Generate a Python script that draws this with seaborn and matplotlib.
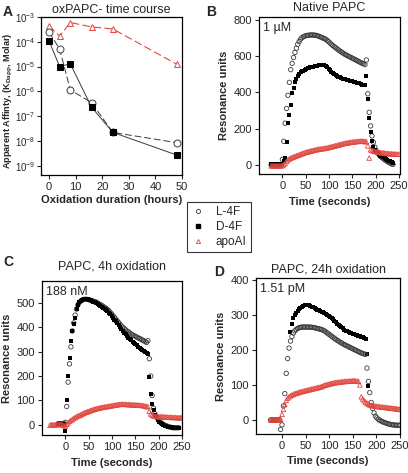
import numpy as np
import pandas as pd
import matplotlib
matplotlib.use("Agg")
import matplotlib.pyplot as plt
import seaborn as sns
from matplotlib.lines import Line2D
from matplotlib.ticker import NullLocator

nan = np.nan

# ---- Panel A: apparent affinity vs oxidation time ----
ox_hours = [0, 4, 8, 16, 24, 48]
kd_L4F = [2.5e-4, 5.1e-5, 1.15e-6, 3.5e-7, 2.2e-8, 8.5e-9]
kd_D4F = [1.1e-4, 1.0e-5, 1.3e-5, 2.3e-7, 2.2e-8, 2.7e-9]
kd_apo = [4.4e-4, 1.7e-4, 6.0e-4, 4.0e-4, 3.3e-4, 1.25e-5]
kd_ticks = [1e-9, 1e-8, 1e-7, 1e-6, 1e-5, 1e-4, 1e-3]
kd_tick_labels = ["10$^{-9}$", "10$^{-8}$", "10$^{-7}$", "10$^{-6}$",
                  "10$^{-5}$", "10$^{-4}$", "10$^{-3}$"]

# ---- Sensorgrams: sampled every 3 s from -36 s to 249 s ----
t_sec = np.arange(-36, 250, 3)

B_L4F = [nan, nan, nan, nan,
         0, 0, 0, 0, 0, 0, 0, 0,
         30, 130, 230, 311, 384, 455, 525, 560, 592, 620,
         643, 665, 680, 693, 701, 706, 710, 713, 714, 715,
         716, 716, 716, 715, 714, 712, 709, 706, 703, 699,
         696, 692, 686, 679, 672, 665, 658, 652, 646, 640,
         634, 628, 623, 618, 613, 608, 604, 600, 596, 592,
         588, 584, 580, 576, 572, 568, 564, 560, 557, 553,
         578, 392, 290, 215, 160, 125, 98, 80, 67, 57,
         48, 41, 35, 29, 24, 19, 14, 10, 6, 3,
         nan, nan, nan, nan]
B_D4F = [nan, nan, nan, nan,
         3, 3, 3, 3, 3, 3, 3, 3,
         5, 20, 38, 129, 229, 275, 330, 395, 425, 455,
         475, 490, 501, 510, 516, 520, 525, 529, 532, 535,
         538, 540, 542, 544, 546, 547, 548, 549, 550, 550,
         548, 544, 538, 530, 522, 514, 507, 501, 496, 491,
         487, 483, 479, 476, 474, 471, 469, 467, 464, 462,
         460, 458, 456, 454, 452, 449, 446, 443, 440, 438,
         490, 365, 256, 180, 130, 101, 85, 74, 65, 58,
         52, 47, 42, 37, 32, 27, 23, 20, 16, 13,
         nan, nan, nan, nan]
B_apo = [nan, nan, nan, nan,
         -5, -5, -5, -5, -5, -5, -5, -5,
         -3, 2, 8, 20, 28, 33, 37, 41, 44, 47,
         50, 53, 56, 59, 62, 65, 68, 70, 72, 74,
         76, 78, 80, 82, 84, 85, 87, 88, 89, 90,
         91, 92, 94, 96, 98, 100, 102, 104, 106, 108,
         110, 112, 114, 116, 118, 120, 121, 122, 124, 125,
         126, 127, 128, 129, 130, 130, 131, 131, 130, 129,
         128, 105, 38, 84, 80, 77, 75, 73, 71, 70,
         68, 67, 66, 65, 64, 63, 62, 62, 61, 61,
         60, 60, 59, 59]

C_L4F = [nan, nan, nan, nan,
         nan, nan, nan, 5, 5, 5, 5, 5,
         10, 75, 175, 250, 320, 385, 418, 450, 475, 492,
         502, 508, 512, 514, 515, 515, 514, 513, 511, 509,
         507, 505, 503, 500, 496, 493, 490, 486, 482, 478,
         474, 468, 462, 455, 448, 441, 434, 427, 420, 413,
         406, 400, 395, 390, 385, 381, 377, 373, 369, 366,
         363, 360, 357, 354, 351, 348, 345, 342, 338, 345,
         271, 200, 120, 68, 45, 34, 25, 16, 10, 5,
         2, -1, -4, -6, -8, -10, -11, -12, -12, -12,
         -12, -12, nan, nan]
C_D4F = [nan, nan, nan, nan,
         nan, nan, nan, 5, 5, 5, 5, 2,
         -25, 100, 200, 275, 343, 385, 415, 440, 475, 493,
         503, 509, 513, 515, 516, 516, 515, 513, 511, 508,
         505, 502, 498, 494, 490, 486, 482, 478, 474, 470,
         466, 460, 454, 447, 440, 432, 424, 416, 408, 400,
         392, 385, 378, 371, 364, 358, 352, 346, 341, 336,
         331, 326, 321, 316, 311, 306, 302, 298, 294, 291,
         196, 125, 85, 60, 42, 30, 20, 12, 6, 2,
         -2, -4, -6, -8, -9, -10, -11, -12, -12, -13,
         -13, -13, nan, nan]
C_apo = [nan, -2, 0, 0,
         0, 0, 1, 1, 1, 1, 0, -3,
         -5, 2, 8, 14, 18, 22, 26, 30, 33, 36,
         38, 41, 44, 47, 50, 52, 54, 56, 58, 60,
         62, 64, 66, 67, 68, 70, 71, 72, 73, 74,
         75, 76, 77, 78, 79, 80, 81, 82, 83, 84,
         84, 84, 84, 84, 83, 83, 83, 82, 82, 82,
         81, 81, 81, 80, 80, 79, 78, 77, 75, 74,
         55, 45, 40, 37, 35, 34, 34, 33, 33, 33,
         32, 32, 32, 31, 31, 31, 30, 30, 30, 30,
         29, 29, 29, 29]

D_L4F = [nan, nan, nan, nan,
         0, 0, 0, 0, 0, 0, 0, -27,
         -14, 40, 75, 133, 175, 205, 225, 238, 248, 254,
         258, 261, 263, 264, 265, 265, 265, 265, 265, 265,
         265, 264, 264, 263, 262, 261, 260, 259, 258, 256,
         254, 251, 248, 245, 242, 239, 236, 233, 230, 227,
         225, 222, 220, 217, 215, 213, 211, 209, 207, 205,
         203, 201, 199, 197, 195, 193, 191, 190, 188, 187,
         148, 110, 78, 50, 33, 20, 11, 6, 2, -1,
         -3, -5, -7, -8, -10, -11, -12, -13, -14, -14,
         -15, -15, -15, -15]
D_D4F = [nan, nan, nan, nan,
         nan, nan, nan, nan, nan, nan, nan, nan,
         nan, nan, nan, nan, nan, nan, 250, 275, 290, 300,
         306, 312, 316, 320, 323, 326, 328, 329, 328, 327,
         325, 323, 321, 319, 317, 315, 313, 311, 309, 307,
         305, 303, 300, 297, 294, 291, 287, 283, 279, 275,
         271, 267, 264, 261, 258, 255, 253, 251, 249, 247,
         246, 244, 243, 241, 240, 239, 237, 236, 234, 232,
         187, 97, nan, nan, nan, nan, nan, nan, nan, nan,
         nan, nan, nan, nan, nan, nan, nan, nan, nan, nan,
         nan, nan, nan, nan]
D_apo = [nan, nan, nan, nan,
         0, 0, 0, 0, 0, 0, 0, 2,
         16, 30, 44, 56, 62, 66, 69, 71, 73, 75,
         76, 77, 79, 80, 81, 82, 83, 84, 85, 86,
         87, 88, 89, 90, 91, 92, 93, 94, 95, 97,
         99, 100, 101, 102, 103, 104, 105, 106, 107, 107,
         108, 108, 109, 109, 110, 110, 110, 111, 111, 111,
         112, 112, 111, 111, 110, 100, 66, 60, 55, 51,
         48, 45, 43, 42, 41, 40, 39, 39, 38, 38,
         37, 37, 36, 36, 35, 35, 34, 34, 33, 33,
         32, 32, 31, 30]

RED = "#e0463e"
GRAY = "#3a3a3a"

sns.set_style("ticks")
plt.rcParams["font.family"] = ["Liberation Sans", "DejaVu Sans"]
plt.rcParams["mathtext.fontset"] = "custom"
plt.rcParams["mathtext.rm"] = "Liberation Sans"
plt.rcParams["mathtext.it"] = "Liberation Sans:italic"
plt.rcParams["mathtext.bf"] = "Liberation Sans:bold"
plt.rcParams["axes.linewidth"] = 0.9
plt.rcParams["xtick.major.width"] = 0.8
plt.rcParams["ytick.major.width"] = 0.8
plt.rcParams["xtick.major.size"] = 3
plt.rcParams["ytick.major.size"] = 3

fig = plt.figure(figsize=(4.08, 4.73), dpi=100)
axA = fig.add_axes([0.1005, 0.630, 0.3456, 0.334])
axB = fig.add_axes([0.6348, 0.6321, 0.3456, 0.3319])
axC = fig.add_axes([0.1029, 0.0803, 0.3431, 0.3256])
axD = fig.add_axes([0.6275, 0.0825, 0.3529, 0.3298])

# Panel A
sns.lineplot(x=ox_hours, y=kd_apo, ax=axA, color=RED, linewidth=0.8,
             linestyle=(0, (7, 3)), marker="^", markersize=5,
             markerfacecolor="white", markeredgecolor=RED, markeredgewidth=0.7)
sns.lineplot(x=ox_hours, y=kd_L4F, ax=axA, color=GRAY, linewidth=0.7,
             linestyle=(0, (7, 3)), marker="o", markersize=5,
             markerfacecolor="white", markeredgecolor=GRAY, markeredgewidth=0.7)
sns.lineplot(x=ox_hours, y=kd_D4F, ax=axA, color=GRAY, linewidth=0.7,
             marker="s", markersize=4.2, markerfacecolor="black",
             markeredgecolor="black")
axA.set_yscale("log")
axA.set_ylim(4.2e-10, 1e-3)
axA.set_yticks(kd_ticks)
axA.set_yticklabels(kd_tick_labels)
axA.yaxis.set_minor_locator(NullLocator())
axA.set_xlim(-3, 50)
axA.set_xticks([0, 10, 20, 30, 40, 50])
axA.set_title("oxPAPC- time course", fontsize=9, pad=3)
axA.set_xlabel("Oxidation duration (hours)", fontsize=8, fontweight="bold", labelpad=2)
axA.set_ylabel("Apparent Affinty, (K$_{\\mathbf{Dapp}}$, Molar)", fontsize=6.6,
               fontweight="bold")
axA.yaxis.set_label_coords(-0.185, 0.47)


def sensorgram(ax, l4f, d4f, apo, title, conc, xlim, ylim, yticks, draw_squares_first=False):
    circ = dict(marker="o", s=10, facecolor="none", edgecolor=GRAY, linewidth=0.6)
    sq = dict(marker="s", s=7, color="black", linewidth=0)
    tri = dict(marker="^", s=11, facecolor="none", edgecolor=RED, linewidth=0.6)
    if draw_squares_first:
        sns.scatterplot(x=t_sec, y=d4f, ax=ax, **sq)
        sns.scatterplot(x=t_sec, y=l4f, ax=ax, **circ)
    else:
        sns.scatterplot(x=t_sec, y=l4f, ax=ax, **circ)
        sns.scatterplot(x=t_sec, y=d4f, ax=ax, **sq)
    sns.scatterplot(x=t_sec, y=apo, ax=ax, **tri)
    ax.set_xlim(*xlim)
    ax.set_ylim(*ylim)
    ax.set_xticks([0, 50, 100, 150, 200, 250])
    ax.set_yticks(yticks)
    ax.set_title(title, fontsize=9, pad=4)
    ax.set_xlabel("Time (seconds)", fontsize=8, fontweight="bold", labelpad=4)
    ax.set_ylabel("Resonance units", fontsize=8, fontweight="bold", labelpad=3)
    ax.text(0.03, 0.97, conc, transform=ax.transAxes, ha="left", va="top", fontsize=9)


sensorgram(axB, B_L4F, B_D4F, B_apo, "Native PAPC", "1 \u00b5M",
           (-50, 252), (-50, 815), [0, 200, 400, 600, 800])
sensorgram(axC, C_L4F, C_D4F, C_apo, "PAPC, 4h oxidation", "188 nM",
           (-50, 250), (-42, 590), [0, 100, 200, 300, 400, 500])
sensorgram(axD, D_L4F, D_D4F, D_apo, "PAPC, 24h oxidation", "1.51 pM",
           (-55, 250), (-40, 405), [0, 100, 200, 300, 400], draw_squares_first=True)
axC.set_title("PAPC, 4h oxidation", fontsize=9, pad=8)

for ax in (axA, axB, axC, axD):
    ax.tick_params(labelsize=8, direction="out", pad=2, top=False, right=False)
    for sp in ax.spines.values():
        sp.set_visible(True)
        sp.set_color("black")
axA.tick_params(axis="y", labelsize=7, pad=1)

# panel letters
for lbl, x, y in [("A", 0.006, 0.989), ("B", 0.505, 0.989), ("C", 0.008, 0.461), ("D", 0.525, 0.44)]:
    fig.text(x, y, lbl, fontsize=10, fontweight="bold", ha="left", va="top")

handles = [
    Line2D([], [], linestyle="none", marker="o", markersize=3, markerfacecolor="none",
           markeredgecolor=GRAY, markeredgewidth=0.6),
    Line2D([], [], linestyle="none", marker="s", markersize=2.8, color="black"),
    Line2D([], [], linestyle="none", marker="^", markersize=3, markerfacecolor="none",
           markeredgecolor=RED, markeredgewidth=0.6),
]
leg = fig.legend(handles, ["L-4F", "D-4F", "apoAI"], loc="upper left",
                 bbox_to_anchor=(0.458, 0.573), fontsize=8.5, frameon=True,
                 fancybox=False, borderpad=0.35, handletextpad=0.9, labelspacing=0.25,
                 handlelength=1.2, borderaxespad=0)
leg.get_frame().set_edgecolor("black")
leg.get_frame().set_linewidth(0.8)

fig.savefig("out.png", dpi=100)
